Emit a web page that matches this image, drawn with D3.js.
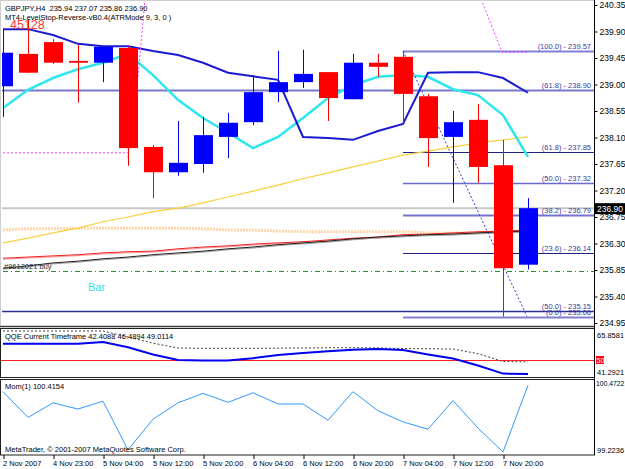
<!DOCTYPE html>
<html>
<head>
<meta charset="utf-8">
<script src="https://cdn.jsdelivr.net/npm/d3@7"></script>
<style>
body { margin: 0; background: #fff; }
svg { display: block; font-family: "Liberation Sans", Arial, sans-serif; }
</style>
</head>
<body>
<svg width="625" height="469"></svg>
<script>
// ---- data (GBPJPY H4) ----
const timeLabels = ["2 Nov 2007", "4 Nov 23:00", "5 Nov 04:00", "5 Nov 12:00", "5 Nov 20:00",
    "6 Nov 04:00", "6 Nov 12:00", "6 Nov 20:00", "7 Nov 04:00", "7 Nov 12:00", "7 Nov 20:00"];

const open  = [238.97, 239.52, 239.72, 239.40, 239.37, 239.62, 237.94, 237.51, 237.65, 238.11, 238.36,
               238.87, 239.04, 239.21, 238.75, 239.37, 239.47, 238.80, 238.11, 238.40, 237.63, 235.94];
const high  = [239.94, 240.10, 239.77, 239.67, 239.64, 239.64, 237.97, 238.38, 238.45, 238.52, 239.16,
               239.57, 239.59, 239.21, 239.52, 239.52, 239.57, 238.84, 238.55, 238.67, 238.06, 237.07];
const low   = [238.45, 239.20, 239.35, 238.69, 239.04, 237.62, 237.07, 237.45, 237.50, 237.75, 238.31,
               238.70, 238.94, 238.38, 238.75, 239.13, 238.35, 237.60, 236.99, 237.33, 235.06, 235.86];
const close = [239.54, 239.20, 239.37, 239.37, 239.64, 237.92, 237.51, 237.67, 238.14, 238.35, 238.87,
               239.04, 239.18, 238.77, 239.37, 239.30, 238.84, 238.09, 238.36, 237.60, 235.88, 236.90];

// indicator lines on the price chart
const maFast = [238.60, 238.91, 239.11, 239.26, 239.37, 239.52, 239.16, 238.74, 238.43, 238.18, 237.92,
                238.11, 238.43, 238.77, 238.99, 239.13, 239.16, 239.13, 238.92, 238.82, 238.48, 237.77];
const levelStop = [239.94, 239.94, 239.84, 239.69, 239.65, 239.65, 239.57, 239.50, 239.37, 239.20, 239.14,
                   239.08, 238.11, 238.09, 238.06, 238.21, 238.33, 239.20, 239.21, 239.21, 239.11, 238.86];
const maYellow = [236.31, 236.39, 236.48, 236.56, 236.67, 236.75, 236.84, 236.90, 236.99, 237.09, 237.19,
                  237.29, 237.40, 237.50, 237.60, 237.70, 237.80, 237.87, 237.94, 238.01, 238.06, 238.11];
const maOrange = [236.53, 236.55, 236.55, 236.56, 236.56, 236.56, 236.56, 236.56, 236.55, 236.53, 236.53,
                  236.51, 236.50, 236.50, 236.50, 236.50, 236.50, 236.48, 236.48, 236.48, 236.50, 236.50];
const maRed = [236.05, 236.07, 236.09, 236.11, 236.14, 236.16, 236.17, 236.21, 236.24, 236.26, 236.29,
               236.31, 236.33, 236.36, 236.39, 236.41, 236.45, 236.46, 236.48, 236.50, 236.51, 236.53];
const maBlack = [235.88, 235.92, 235.97, 236.00, 236.04, 236.07, 236.11, 236.14, 236.17, 236.21, 236.24,
                 236.28, 236.31, 236.34, 236.38, 236.41, 236.43, 236.45, 236.46, 236.48, 236.50, 236.51];

// fibonacci objects
const fibLevels = ["100.0", "61.8", "50.0", "38.2", "23.6", "0.0"];
const fibPrices = [239.57, 237.85, 237.32, 236.79, 236.14, 235.06];
const fib2Levels = ["61.8", "50.0"];
const fib2Prices = [238.90, 235.15];

// drawn objects [bar, price]
const trendDots = [[16, 239.57], [20.96, 235.06]];
const magentaLeft = [[5.68, 240.45], [5.4, 239.13]];
const magentaFlat = [[0, 237.84], [5, 237.84]];
const magentaTick = [[5, 237.93], [5, 237.76]];
const magentaRight = [[19.12, 240.45], [19.96, 239.55], [20.96, 239.55]];

const bidPrice = 236.90;
const orderPrice = 235.84;
const priceTicks = [240.35, 239.90, 239.45, 239.00, 238.55, 238.10, 237.65, 237.20, 236.75, 236.30, 235.85, 235.40, 234.95];

// QQE sub-window
const qqeRsi = [58.9, 58.9, 58.9, 58.9, 59.8, 57.0, 53.0, 50.0, 49.8, 49.8, 51.0,
                52.8, 53.8, 54.8, 55.6, 56.0, 55.5, 53.0, 50.8, 47.0, 42.6, 42.41];
const qqeTrail = [65.86, 65.86, 65.86, 65.86, 65.86, 62.6, 59.2, 56.6, 56.4, 56.4, 56.4,
                  56.5, 56.6, 56.7, 56.7, 56.6, 56.3, 56.2, 56.0, 53.5, 49.2, 49.01];
const qqeRange = [41.2921, 65.8581];

// Momentum sub-window
const mom = [100.30, 99.84, 100.10, 99.99, 100.13, 99.26, 99.81, 100.10, 100.27, 100.11, 100.28,
             100.08, 100.08, 99.79, 100.30, 99.96, 99.76, 99.63, 100.14, 99.65, 99.2236, 100.4154];
const momRange = [99.2236, 100.4722];

// ---- layout ----
const svg = d3.select("svg");
const axisX = 594;
const n = close.length;

const x = d3.scaleLinear().domain([0, n - 1]).range([3, 528]);
const y = d3.scaleLinear().domain([234.95, 240.35]).range([323, 5]);
const yQ = d3.scaleLinear().domain(qqeRange).range([376, 331]);
const yM = d3.scaleLinear().domain(momRange).range([452, 382]);

const defs = svg.append("defs");
defs.append("clipPath").attr("id", "clipMain").append("rect").attr("x", 2).attr("y", 1).attr("width", axisX - 2).attr("height", 325);
defs.append("clipPath").attr("id", "clipQ").append("rect").attr("x", 1).attr("y", 329).attr("width", axisX - 1).attr("height", 48);
defs.append("clipPath").attr("id", "clipM").append("rect").attr("x", 1).attr("y", 380).attr("width", axisX - 1).attr("height", 75);

// panel frames
svg.append("rect").attr("x", 0.5).attr("y", 0.5).attr("width", axisX).attr("height", 326)
    .attr("fill", "none").attr("stroke", "#9a9a9a").attr("stroke-dasharray", "1,1");
svg.append("line").attr("x1", 0).attr("x2", axisX).attr("y1", 326.5).attr("y2", 326.5).attr("stroke", "#404040").attr("stroke-width", 1.5);
svg.append("rect").attr("x", 0.5).attr("y", 328.5).attr("width", axisX).attr("height", 49)
    .attr("fill", "none").attr("stroke", "#202020");
svg.append("rect").attr("x", 0.5).attr("y", 379.5).attr("width", axisX).attr("height", 75.5)
    .attr("fill", "none").attr("stroke", "#202020");

// ---- main chart ----
const main = svg.append("g").attr("clip-path", "url(#clipMain)");

const line = arr => d3.line().x((d, i) => x(i)).y(d => y(d))(arr);
const objLine = pts => d3.line().x(d => x(d[0])).y(d => y(d[1]))(pts);

// bid line
main.append("line").attr("x1", 0).attr("x2", axisX).attr("y1", y(bidPrice)).attr("y2", y(bidPrice))
    .attr("stroke", "#c8c8c8").attr("stroke-width", 2);

// fib set spanning whole chart
const fib2Style = [{ c: "#7878c8", w: 2 }, { c: "#303090", w: 1.5 }];
fib2Prices.forEach((p, i) => {
    main.append("line").attr("x1", 0).attr("x2", axisX).attr("y1", Math.round(y(p)) + 0.5).attr("y2", Math.round(y(p)) + 0.5)
        .attr("stroke", fib2Style[i].c).attr("stroke-width", fib2Style[i].w);
});
// fib set from bar 16
const fibStyle = [{ c: "#8080d8", w: 2 }, { c: "#202080", w: 1 }, { c: "#6a6ad0", w: 1.5 },
                  { c: "#7474d0", w: 2 }, { c: "#202080", w: 1 }, { c: "#8080d0", w: 2 }];
fibPrices.forEach((p, i) => {
    main.append("line").attr("x1", x(16)).attr("x2", axisX).attr("y1", Math.round(y(p)) + 0.5).attr("y2", Math.round(y(p)) + 0.5)
        .attr("stroke", fibStyle[i].c).attr("stroke-width", fibStyle[i].w);
});

// order line
main.append("line").attr("x1", 3).attr("x2", axisX).attr("y1", Math.round(y(orderPrice)) + 0.5).attr("y2", Math.round(y(orderPrice)) + 0.5)
    .attr("stroke", "#2e8b2e").attr("stroke-dasharray", "5,3,1,3");

// moving averages below candles
main.append("path").attr("d", line(maOrange)).attr("fill", "none").attr("stroke", "#ffcf9a")
    .attr("stroke-width", 3).attr("stroke-dasharray", "2,1").attr("opacity", 0.85);
main.append("path").attr("d", line(maYellow)).attr("fill", "none").attr("stroke", "#f5d040").attr("stroke-width", 1.2);
main.append("path").attr("d", line(maRed)).attr("fill", "none").attr("stroke", "#ff9a9a").attr("stroke-width", 1).attr("transform", "translate(0,1)");
main.append("path").attr("d", line(maRed)).attr("fill", "none").attr("stroke", "#f02020").attr("stroke-width", 1);
main.append("path").attr("d", line(maBlack)).attr("fill", "none").attr("stroke", "#a0a0a0").attr("stroke-width", 1).attr("transform", "translate(0,1)");
main.append("path").attr("d", line(maBlack)).attr("fill", "none").attr("stroke", "#202020").attr("stroke-width", 1);
main.append("path").attr("d", line(maFast)).attr("fill", "none").attr("stroke", "#2ee6ee").attr("stroke-width", 2.5);
main.append("path").attr("d", line(levelStop)).attr("fill", "none").attr("stroke", "#1a1ad0").attr("stroke-width", 2);

// drawn objects
main.append("path").attr("d", objLine(trendDots)).attr("fill", "none").attr("stroke", "#3a3ad0").attr("stroke-dasharray", "2,2");
[magentaLeft, magentaFlat, magentaTick, magentaRight].forEach(pts => {
    main.append("path").attr("d", objLine(pts)).attr("fill", "none").attr("stroke", "#ff40ff").attr("stroke-dasharray", "2,2");
});

// candles
const idx = d3.range(n);
const col = i => close[i] >= open[i] ? "#0000ff" : "#ff0000";
main.selectAll("line.wick").data(idx).join("line").attr("class", "wick")
    .attr("x1", i => Math.round(x(i)) + 0.5).attr("x2", i => Math.round(x(i)) + 0.5)
    .attr("y1", i => y(high[i])).attr("y2", i => y(low[i]))
    .attr("stroke", col);
main.selectAll("rect.body").data(idx).join("rect").attr("class", "body")
    .attr("x", i => Math.round(x(i)) - 9).attr("width", 19)
    .attr("y", i => y(Math.max(open[i], close[i])))
    .attr("height", i => Math.max(1.5, Math.abs(y(open[i]) - y(close[i]))))
    .attr("fill", col);

// fib labels
const fibTxt = svg.append("g").attr("font-size", "7.5px").attr("fill", "#3c3c9c").attr("text-anchor", "end");
fibPrices.forEach((p, i) => {
    fibTxt.append("text").attr("x", 591).attr("y", y(p) - 2).text(`(${fibLevels[i]}) - ${p.toFixed(2)}`);
});
fib2Prices.forEach((p, i) => {
    fibTxt.append("text").attr("x", 591).attr("y", y(p) - 2).text(`(${fib2Levels[i]}) - ${p.toFixed(2)}`);
});

// texts on main chart
svg.append("text").attr("x", 5).attr("y", 10.5).attr("font-size", "7.5px").attr("fill", "#000")
    .text("GBPJPY,H4  235.94 237.07 235.86 236.90").attr("xml:space", "preserve");
svg.append("text").attr("x", 5).attr("y", 19.5).attr("font-size", "7.5px").attr("fill", "#000")
    .text("MT4-LevelStop-Reverse-vB0.4(ATRMode 9, 3, 0 )");
svg.append("text").attr("x", 10).attr("y", 28.5).attr("font-size", "12.5px").attr("fill", "#ff3a3a").text("45128");
svg.append("text").attr("x", 4).attr("y", 269).attr("font-size", "7.5px").attr("fill", "#303030").text("#9612021 buy");
svg.append("text").attr("x", 88).attr("y", 291).attr("font-size", "11px").attr("fill", "#33e0ee").text("Bar");

// price axis
const yAxis = d3.axisRight(y).tickValues(priceTicks).tickFormat(d3.format(".2f")).tickSize(3).tickSizeOuter(0);
const ga = svg.append("g").attr("transform", `translate(${axisX + 0.5},0)`).call(yAxis);
ga.select(".domain").remove();
ga.selectAll("text").attr("font-family", "Liberation Sans, Arial, sans-serif").attr("font-size", "8.5px").attr("x", 5).attr("fill", "#000");
ga.selectAll("line").attr("stroke", "#000");
svg.append("line").attr("x1", axisX + 0.5).attr("x2", axisX + 0.5).attr("y1", 0).attr("y2", 455).attr("stroke", "#000");

// current price tag
svg.append("rect").attr("x", axisX + 1).attr("y", y(bidPrice) - 5).attr("width", 30).attr("height", 11).attr("fill", "#000");
svg.append("text").attr("x", axisX + 3).attr("y", y(bidPrice) + 4).attr("font-size", "8.5px").attr("fill", "#fff").text(bidPrice.toFixed(2));

// ---- QQE window ----
const q = svg.append("g").attr("clip-path", "url(#clipQ)");
q.append("line").attr("x1", 0).attr("x2", axisX).attr("y1", Math.round(yQ(50)) + 0.5).attr("y2", Math.round(yQ(50)) + 0.5).attr("stroke", "#ff2020");
q.append("path").attr("d", d3.line().x((d, i) => x(i)).y(d => yQ(d))(qqeTrail))
    .attr("fill", "none").attr("stroke", "#404040").attr("stroke-dasharray", "2,2");
q.append("path").attr("d", d3.line().x((d, i) => x(i)).y(d => yQ(d))(qqeRsi))
    .attr("fill", "none").attr("stroke", "#0000ee").attr("stroke-width", 2);
svg.append("text").attr("x", 5).attr("y", 339).attr("font-size", "7.5px").attr("fill", "#000")
    .text("QQE Current Timeframe 42.4088 46.4894 49.0114");
svg.append("text").attr("x", 597).attr("y", yQ(qqeRange[1]) + 7).attr("font-size", "7.5px").text(qqeRange[1].toFixed(4));
svg.append("text").attr("x", 597).attr("y", yQ(qqeRange[0]) - 1).attr("font-size", "7.5px").text(qqeRange[0].toFixed(4));
svg.append("rect").attr("x", 596).attr("y", yQ(50) - 4).attr("width", 8).attr("height", 8).attr("fill", "#ff0000");
svg.append("text").attr("x", 596.5).attr("y", yQ(50) + 3).attr("font-size", "7px").attr("fill", "#fff").text("50");

// ---- Momentum window ----
const m = svg.append("g").attr("clip-path", "url(#clipM)");
m.append("path").attr("d", d3.line().x((d, i) => x(i)).y(d => yM(d))(mom))
    .attr("fill", "none").attr("stroke", "#3399ff").attr("stroke-width", 1);
svg.append("text").attr("x", 5).attr("y", 389).attr("font-size", "7.5px").attr("fill", "#000").text("Mom(1) 100.4154");
svg.append("text").attr("x", 5).attr("y", 452).attr("font-size", "7.5px").attr("fill", "#000")
    .text("MetaTrader, \u00a9 2001-2007 MetaQuotes Software Corp.");
svg.append("text").attr("x", 596).attr("y", yM(momRange[1]) + 4).attr("font-size", "6.8px").text(momRange[1].toFixed(4));
svg.append("text").attr("x", 597).attr("y", yM(momRange[0]) + 1).attr("font-size", "7.5px").text(momRange[0].toFixed(4));

// ---- time axis ----
const xAxis = d3.axisBottom(x).tickValues(d3.range(0, n - 1, 2)).tickFormat((d, i) => timeLabels[i]).tickSize(4).tickSizeOuter(0);
const gx = svg.append("g").attr("transform", "translate(0.5,455)").call(xAxis);
gx.select(".domain").remove();
gx.selectAll("line").attr("stroke", "#000");
gx.selectAll("text").attr("text-anchor", "start").attr("x", -1).attr("y", 6)
    .attr("font-family", "Liberation Sans, Arial, sans-serif").attr("font-size", "7.5px").attr("fill", "#000");
</script>
</body>
</html>
